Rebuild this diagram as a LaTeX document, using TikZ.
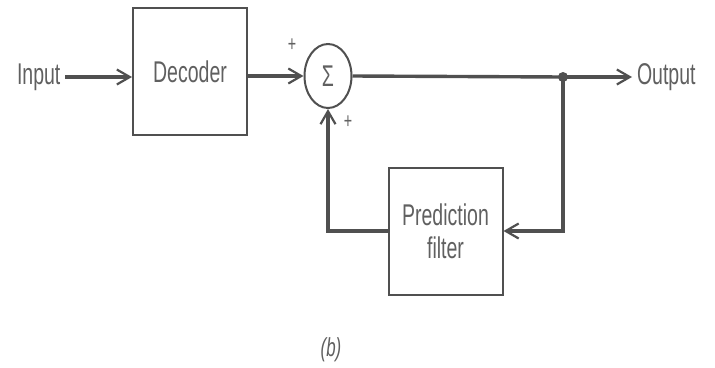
\documentclass[tikz,border=0pt]{standalone}
\usepackage{fontspec}
\setmainfont{Liberation Sans}[FakeStretch=0.65]
\usetikzlibrary{arrows.meta,shapes.geometric}
\definecolor{ink}{HTML}{505050}
\definecolor{txt}{HTML}{606060}
\begin{document}
\begin{tikzpicture}[x=1pt,y=-1pt,line width=3.4pt,draw=ink,
  >={Straight Barb[length=13pt,width=15pt,line width=2.2pt]},
  blk/.style={draw=ink,line width=2pt,inner sep=0pt,minimum width=114pt,minimum height=127pt,
    text=txt,font=\fontsize{30}{33}\selectfont,align=center},
  lbl/.style={text=txt,font=\fontsize{30}{33}\selectfont},
  sgn/.style={text=txt,font=\fontsize{22}{24}\selectfont}]
\useasboundingbox (0,0) rectangle (715,367);
% blocks
\node [lbl, anchor=west] (in) at (12,77) {Input};
\node [blk] (dec) at (190,71.5) {Decoder};
\node [ellipse, draw=ink, line width=2pt, minimum width=47pt, minimum height=64pt, inner sep=0pt, text=txt, font=\fontsize{30}{32}\selectfont] (sum) at (328,76) {Σ};
\coordinate (jn) at (563,77);
\node [lbl, anchor=west] (out) at (632,77) {Output};
\node [blk] (pf) at (445.5,231) {Prediction\\filter};
% signs
\node [sgn] (p1) at (292,45) {+};
\node [sgn] (p2) at (348,122) {+};
% connectors
\draw [->] (in.east) -- (in.east -| dec.west);
\draw [->] (dec.east |- sum.west) -- (sum.west);
\draw (sum.east) -- (jn);
\draw [->] (jn) -- (out.west);
\fill [ink] (jn) circle (5pt);
\draw [->] (jn) |- (pf.east);
\draw [->] (pf.west) -| (sum.south);
% caption
\node [text=txt, font=\fontsize{26}{28}\selectfont\itshape] (cap) at (331,350) {(b)};
\end{tikzpicture}
\end{document}
